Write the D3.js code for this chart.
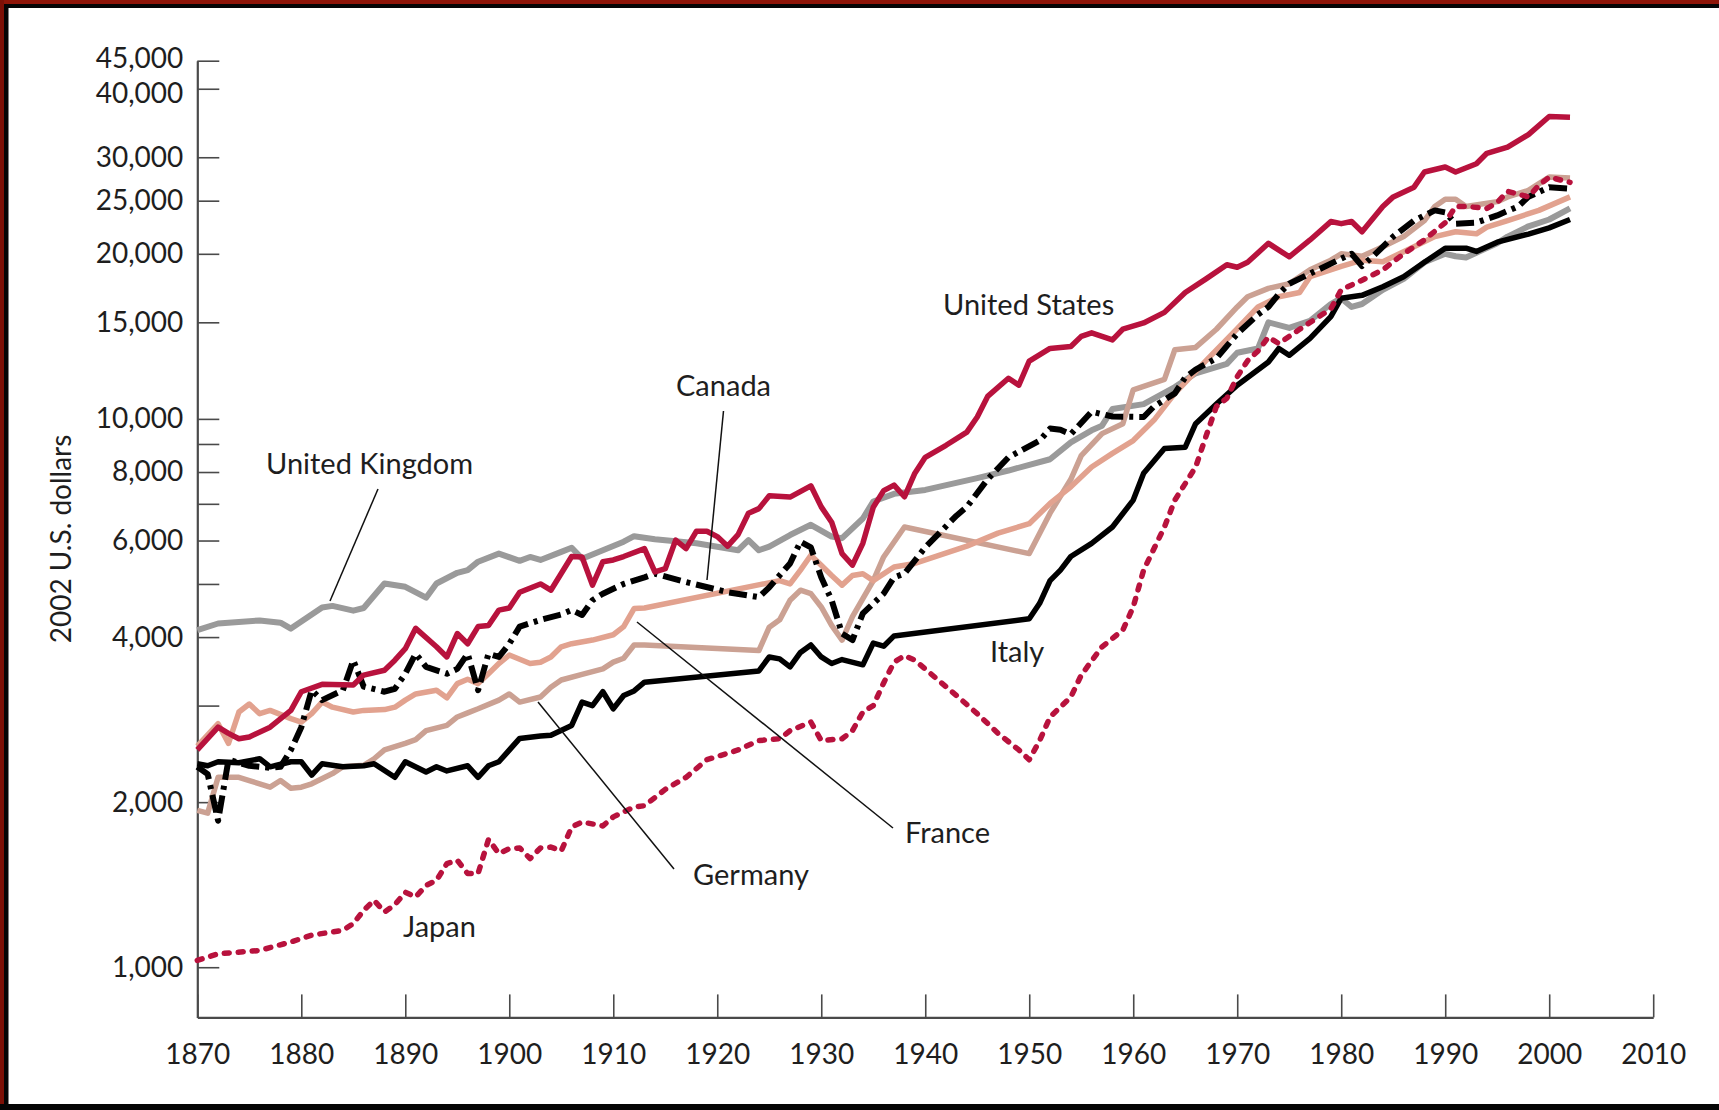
<!DOCTYPE html>
<html>
<head>
<meta charset="utf-8">
<script src="https://d3js.org/d3.v7.min.js"></script>
<style>
  body { margin: 0; background: #fff; }
  svg { display: block; font-family: Lato, "Noto Sans", sans-serif; }
  .axis path, .axis line { stroke: #4a4a4a; }
  .axis text { font-size: 28px; fill: #1e1e1e; font-family: Lato, "Noto Sans", sans-serif; }
  .label { font-size: 29px; fill: #1e1e1e; }
</style>
</head>
<body>
<div class="chart"></div>
<script>
// GDP per capita, 2002 U.S. dollars as [year, value]
var usData = [[1870,2490],[1872,2740],[1873,2670],[1874,2610],[1875,2630],[1877,2740],[1879,2940],[1880,3180],
  [1882,3280],[1885,3270],[1886,3410],[1888,3480],[1889,3630],[1890,3810],[1891,4150],[1893,3840],[1894,3680],
  [1895,4060],[1896,3890],[1897,4180],[1898,4200],[1899,4480],[1900,4520],[1901,4830],[1903,5000],[1904,4870],
  [1906,5610],[1907,5600],[1908,4975],[1909,5490],[1910,5530],[1911,5610],[1913,5800],[1914,5260],[1915,5330],
  [1916,6010],[1917,5800],[1918,6240],[1919,6240],[1920,6100],[1921,5860],[1922,6150],[1923,6730],[1924,6860],
  [1925,7240],[1927,7200],[1929,7550],[1930,6910],[1931,6480],[1932,5680],[1933,5410],[1934,5930],[1935,6900],
  [1936,7400],[1937,7570],[1938,7210],[1939,7960],[1940,8510],[1942,8950],[1944,9460],[1945,10080],[1946,10990],
  [1948,11860],[1949,11520],[1950,12750],[1952,13440],[1954,13550],[1955,14140],[1956,14350],[1958,13930],
  [1959,14580],[1961,14960],[1963,15640],[1965,17000],[1967,18000],[1969,19100],[1970,18900],[1971,19300],
  [1973,20900],[1975,19750],[1977,21200],[1979,22900],[1980,22700],[1981,22900],[1982,21940],[1984,24400],
  [1985,25400],[1987,26460],[1988,28200],[1990,28800],[1991,28200],[1993,29200],[1994,30500],[1996,31300],
  [1998,33000],[2000,35600],[2002,35500]];

var ukData = [[1870,4120],[1872,4235],[1876,4290],[1878,4250],[1879,4145],[1882,4530],[1883,4560],[1885,4470],
  [1886,4520],[1888,5010],[1890,4940],[1892,4720],[1893,5010],[1895,5240],[1896,5300],[1897,5490],[1899,5680],
  [1901,5510],[1902,5600],[1903,5530],[1905,5720],[1906,5820],[1907,5560],[1909,5760],[1911,5970],[1912,6110],
  [1914,6030],[1918,5930],[1922,5760],[1923,6010],[1924,5760],[1925,5850],[1927,6140],[1929,6410],[1931,6100],
  [1932,6060],[1934,6580],[1935,7070],[1937,7300],[1940,7420],[1945,7800],[1948,8050],[1952,8440],[1954,9060],
  [1956,9530],[1957,9720],[1958,10420],[1961,10640],[1964,11430],[1966,12110],[1969,12600],[1970,13200],
  [1972,13440],[1973,15000],[1975,14650],[1977,15100],[1979,16200],[1980,16600],[1981,16000],[1982,16200],
  [1984,17200],[1986,18000],[1988,19300],[1990,20000],[1991,19800],[1992,19700],[1995,20900],[1996,21500],
  [1998,22450],[2000,23100],[2002,24200]];

var canadaData = [[1870,2320],[1871,2250],[1872,1850],[1873,2390],[1875,2330],[1877,2310],[1878,2320],[1879,2490],
  [1880,2740],[1881,3200],[1882,3070],[1884,3200],[1885,3630],[1886,3250],[1888,3180],[1889,3220],[1890,3430],
  [1891,3730],[1892,3530],[1894,3430],[1895,3500],[1896,3730],[1897,3200],[1898,3730],[1899,3680],[1900,3890],
  [1901,4180],[1903,4300],[1905,4400],[1906,4480],[1907,4390],[1908,4670],[1909,4800],[1911,5000],[1913,5140],
  [1914,5220],[1917,5040],[1921,4830],[1924,4730],[1925,4930],[1927,5450],[1928,5970],[1929,5830],[1930,5140],
  [1931,4670],[1932,4060],[1933,3950],[1934,4420],[1936,4800],[1937,5140],[1938,5220],[1940,5830],[1943,6660],
  [1944,6910],[1946,7760],[1948,8510],[1951,9130],[1952,9600],[1953,9550],[1954,9380],[1956,10310],[1957,10200],
  [1958,10100],[1961,10080],[1962,10540],[1964,11130],[1965,11900],[1966,12300],[1968,12900],[1970,14300],
  [1972,15500],[1973,16010],[1974,16900],[1975,17640],[1977,18400],[1980,19600],[1981,20000],[1982,19000],
  [1983,19750],[1985,21500],[1987,23000],[1989,24000],[1990,23800],[1991,22700],[1993,22800],[1995,23500],
  [1997,24400],[1998,25400],[2000,26460],[2002,26300]];

var franceData = [[1870,2530],[1872,2780],[1873,2560],[1874,2920],[1875,3020],[1876,2900],[1877,2940],[1879,2840],
  [1880,2800],[1881,2900],[1882,3045],[1883,2980],[1885,2920],[1886,2940],[1888,2950],[1889,2980],[1890,3070],
  [1891,3150],[1893,3200],[1894,3100],[1895,3290],[1896,3350],[1897,3290],[1898,3430],[1899,3580],[1900,3710],
  [1902,3580],[1903,3600],[1904,3680],[1905,3840],[1906,3890],[1908,3950],[1910,4040],[1911,4180],[1912,4510],
  [1913,4520],[1926,5070],[1927,5000],[1928,5300],[1929,5640],[1930,5410],[1931,5180],[1932,4975],[1933,5180],
  [1934,5220],[1935,5070],[1937,5370],[1939,5450],[1944,5860],[1947,6190],[1950,6440],[1952,7010],[1954,7520],
  [1956,8170],[1958,8650],[1960,9130],[1962,9950],[1964,11130],[1967,12770],[1970,14600],[1972,16000],
  [1974,16700],[1976,17000],[1977,18170],[1980,18980],[1982,19470],[1984,19350],[1987,20600],[1989,21500],
  [1991,21940],[1993,21750],[1994,22370],[1996,23000],[1999,24000],[2002,25400]];

var germanyData = [[1870,1932],[1871,1910],[1872,2220],[1874,2220],[1875,2190],[1877,2130],[1878,2190],[1879,2120],
  [1880,2130],[1881,2160],[1883,2255],[1884,2320],[1886,2335],[1887,2400],[1888,2490],[1890,2560],[1891,2600],
  [1892,2700],[1894,2760],[1895,2860],[1896,2910],[1897,2960],[1899,3070],[1900,3150],[1901,3045],[1903,3110],
  [1904,3240],[1905,3340],[1907,3420],[1909,3500],[1910,3600],[1911,3660],[1912,3870],[1913,3870],[1924,3780],
  [1925,4170],[1926,4300],[1927,4670],[1928,4870],[1929,4800],[1930,4540],[1931,4200],[1932,3950],[1933,4360],
  [1935,5070],[1936,5600],[1938,6350],[1950,5680],[1952,6730],[1954,7760],[1955,8570],[1957,9400],[1959,9800],
  [1960,11300],[1963,11800],[1964,13370],[1966,13500],[1968,14570],[1970,16000],[1971,16700],[1973,17300],
  [1975,17640],[1977,18700],[1979,19470],[1980,20000],[1982,19800],[1984,20600],[1986,21500],[1988,23000],
  [1989,24400],[1990,25150],[1991,25150],[1992,24400],[1995,24900],[1996,25400],[1998,26100],[2000,27600],
  [2002,27500]];

var italyData = [[1870,2350],[1871,2330],[1872,2370],[1874,2360],[1876,2400],[1877,2320],[1879,2370],[1880,2370],
  [1881,2240],[1882,2350],[1884,2320],[1886,2330],[1887,2350],[1889,2220],[1890,2370],[1892,2270],[1893,2320],
  [1894,2280],[1896,2330],[1897,2220],[1898,2330],[1899,2370],[1901,2614],[1903,2640],[1904,2650],[1906,2760],
  [1907,3045],[1908,3000],[1909,3180],[1910,2960],[1911,3130],[1912,3190],[1913,3310],[1924,3470],[1925,3680],
  [1926,3650],[1927,3530],[1928,3750],[1929,3870],[1930,3680],[1931,3580],[1932,3640],[1934,3560],[1935,3900],
  [1936,3850],[1937,4020],[1950,4320],[1951,4610],[1952,5070],[1953,5300],[1954,5610],[1956,5930],[1958,6350],
  [1960,7110],[1961,7960],[1963,8830],[1965,8880],[1966,9800],[1968,10640],[1970,11520],[1971,11900],
  [1973,12700],[1974,13440],[1975,13060],[1977,14020],[1979,15360],[1980,16600],[1982,16800],[1984,17420],
  [1986,18170],[1988,19300],[1990,20480],[1992,20480],[1993,20200],[1995,21000],[1998,21730],[2000,22300],
  [2002,23100]];

var japanData = [[1870,1029],[1872,1058],[1876,1073],[1879,1112],[1881,1144],[1884,1168],[1885,1201],[1886,1270],
  [1887,1324],[1888,1261],[1889,1300],[1890,1370],[1891,1343],[1892,1410],[1893,1440],[1894,1545],[1895,1567],
  [1896,1482],[1897,1482],[1898,1710],[1899,1612],[1900,1645],[1901,1650],[1902,1578],[1903,1650],[1904,1656],
  [1905,1630],[1906,1802],[1907,1840],[1909,1810],[1910,1880],[1912,1960],[1913,1970],[1915,2110],[1917,2220],
  [1919,2390],[1922,2490],[1924,2590],[1926,2610],[1927,2700],[1929,2800],[1930,2590],[1932,2610],[1933,2700],
  [1934,2920],[1935,3000],[1936,3300],[1937,3600],[1938,3700],[1939,3630],[1941,3370],[1943,3130],[1945,2900],
  [1947,2670],[1949,2490],[1950,2390],[1951,2590],[1952,2860],[1954,3110],[1955,3410],[1957,3840],[1959,4120],
  [1960,4540],[1961,5300],[1963,6350],[1964,7110],[1966,8170],[1967,9300],[1968,10540],[1969,10900],
  [1970,11940],[1971,12770],[1972,13300],[1973,14100],[1974,13720],[1976,14570],[1979,15870],[1980,17200],
  [1982,17900],[1984,18700],[1986,20000],[1988,21200],[1990,22800],[1991,24400],[1992,24400],[1994,24200],
  [1995,24800],[1996,26000],[1998,25400],[1999,26650],[2000,27600],[2002,27000]];

var yTicks = [1000, 2000, 3000, 4000, 5000, 6000, 7000, 8000, 9000, 10000, 15000, 20000, 25000, 30000, 40000, 45000];
var yLabelled = [1000, 2000, 4000, 6000, 8000, 10000, 15000, 20000, 25000, 30000, 40000, 45000];
var xTicks = d3.range(1870, 2011, 10);

var svgWidth = 1719;
var svgHeight = 1110;

var svg = d3.select(".chart").append("svg")
  .attr("width", svgWidth)
  .attr("height", svgHeight);

// frame: red/black bands on top and left, black at the bottom
svg.append("rect").attr("x", 0).attr("y", 0).attr("width", svgWidth).attr("height", 4).attr("fill", "#8e1508");
svg.append("rect").attr("x", 0).attr("y", 4).attr("width", svgWidth).attr("height", 4).attr("fill", "#050505");
svg.append("rect").attr("x", 0).attr("y", 0).attr("width", 4).attr("height", svgHeight).attr("fill", "#7c1006");
svg.append("rect").attr("x", 4).attr("y", 4).attr("width", 4.5).attr("height", svgHeight).attr("fill", "#050505");
svg.append("rect").attr("x", 0).attr("y", svgHeight - 6).attr("width", svgWidth).attr("height", 6).attr("fill", "#050505");

var x = d3.scaleLinear().domain([1870, 2010]).range([197.3, 1653.2]);
var y = d3.scaleLog().domain([810, 45000]).range([1017.4, 60.7]);

// axes
var leftAxis = d3.axisLeft(y)
  .tickValues(yTicks)
  .tickSizeInner(-22)
  .tickSizeOuter(0)
  .tickPadding(14)
  .tickFormat(function(d) { return yLabelled.indexOf(d) >= 0 ? d3.format(",")(d) : ""; });

var bottomAxis = d3.axisBottom(x)
  .tickValues(xTicks)
  .tickSizeInner(-23)
  .tickSizeOuter(0)
  .tickPadding(27)
  .tickFormat(d3.format("d"));

var gy = svg.append("g").attr("class", "axis")
  .attr("transform", "translate(197.3,0)")
  .call(leftAxis);
gy.select(".domain").attr("stroke-width", 2.2);
gy.selectAll(".tick line").attr("stroke-width", 1.6);
// the two top labels sit close together, nudge them apart a little
gy.selectAll(".tick text")
  .filter(function(d) { return d === 40000; })
  .attr("dy", "0.5em");
gy.selectAll(".tick text")
  .filter(function(d) { return d === 45000; })
  .attr("dy", "0.25em");

var gx = svg.append("g").attr("class", "axis")
  .attr("transform", "translate(0,1017.4)")
  .call(bottomAxis);
gx.select(".domain").attr("stroke-width", 2.2);
gx.selectAll(".tick line").attr("stroke-width", 1.6);

svg.append("text")
  .attr("class", "label")
  .attr("transform", "translate(71,539) rotate(-90)")
  .attr("text-anchor", "middle")
  .style("font-size", "28px")
  .text("2002 U.S. dollars");

// series
var line = d3.line()
  .x(function(d) { return x(d[0]); })
  .y(function(d) { return y(d[1]); });

var series = [
  { data: ukData, color: "#9a9a9a", width: 6 },
  { data: germanyData, color: "#cba193", width: 5.5 },
  { data: franceData, color: "#e2a28f", width: 5.5 },
  { data: italyData, color: "#000000", width: 5.5 },
  { data: canadaData, color: "#000000", width: 6, dash: "18,6,4,6" },
  { data: usData, color: "#b8123d", width: 5.5 },
  { data: japanData, color: "#b8123d", width: 5.5, dash: "5,9", cap: "round" }
];

series.forEach(function(s) {
  svg.append("path")
    .datum(s.data)
    .attr("d", line)
    .attr("fill", "none")
    .attr("stroke", s.color)
    .attr("stroke-width", s.width)
    .attr("stroke-linejoin", "round")
    .attr("stroke-linecap", s.cap || "butt")
    .attr("stroke-dasharray", s.dash || null);
});

// leader lines
var leaders = [
  [378, 489, 330, 601],
  [723.5, 411, 707, 580],
  [637, 622, 893, 828],
  [538, 702, 674, 869]
];
svg.selectAll(".leader")
  .data(leaders)
  .enter()
  .append("line")
  .attr("x1", d => d[0]).attr("y1", d => d[1])
  .attr("x2", d => d[2]).attr("y2", d => d[3])
  .attr("stroke", "#111")
  .attr("stroke-width", 1.5);

var labels = [
  ["United Kingdom", 266, 474],
  ["Canada", 676, 396],
  ["United States", 943, 315],
  ["Italy", 990, 662],
  ["France", 905, 843],
  ["Germany", 693, 885],
  ["Japan", 403, 937]
];
svg.selectAll(".country")
  .data(labels)
  .enter()
  .append("text")
  .attr("class", "label")
  .attr("x", d => d[1])
  .attr("y", d => d[2])
  .text(d => d[0]);
</script>
</body>
</html>
